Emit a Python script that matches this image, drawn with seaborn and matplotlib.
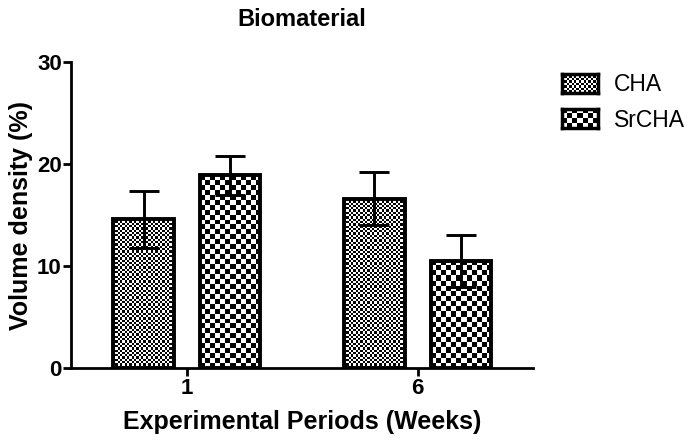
import numpy as np
import pandas as pd
import matplotlib
matplotlib.use('Agg')
import matplotlib.pyplot as plt
from matplotlib.patches import Patch
import seaborn as sns

weeks = ['1', '6']
groups = ['CHA', 'SrCHA']
cha_mean = [14.6, 16.6]
srcha_mean = [18.9, 10.5]
cha_sd = [2.8, 2.6]
srcha_sd = [1.9, 2.5]

# checker cell size (pixels) for each group's fill pattern
cell_px = {'CHA': 2.3, 'SrCHA': 5.0}

df = pd.DataFrame({
    'week': weeks * 2,
    'group': ['CHA'] * 2 + ['SrCHA'] * 2,
    'vd': cha_mean + srcha_mean,
})
sds = {'CHA': cha_sd, 'SrCHA': srcha_sd}
means = {'CHA': cha_mean, 'SrCHA': srcha_mean}

sns.set_style('ticks')
plt.rcParams['font.family'] = ['Liberation Sans', 'DejaVu Sans']
plt.rcParams.update({'text.color': 'black', 'axes.labelcolor': 'black',
                     'xtick.color': 'black', 'ytick.color': 'black',
                     'axes.edgecolor': 'black'})

fig = plt.figure(figsize=(6.94, 4.42), dpi=100)
ax = fig.add_axes([0.103, 0.167, 0.665, 0.693])
sns.barplot(data=df, x='week', y='vd', hue='group', order=weeks, hue_order=groups,
            palette=['white', 'white'], edgecolor='black', linewidth=2.8,
            width=0.75, gap=0.3, errorbar=None, legend=False, ax=ax)

xlim = (-0.5, 1.5)
ylim = (0, 30)
ax.set_xlim(*xlim)
ax.set_ylim(*ylim)
fig.canvas.draw()
bb = ax.get_window_extent()
px_per_x = bb.width / (xlim[1] - xlim[0])
px_per_y = bb.height / (ylim[1] - ylim[0])


def checker(ny, nx):
    return (np.add.outer(np.arange(ny), np.arange(nx)) % 2).astype(float)


for g, cont in zip(groups, ax.containers):
    xs = []
    for bar in cont:
        x0, w, h = bar.get_x(), bar.get_width(), bar.get_height()
        nx = max(1, int(round(w * px_per_x / cell_px[g])))
        ny = max(1, int(round(h * px_per_y / cell_px[g])))
        bar.set_facecolor('none')
        bar.set_zorder(2)
        im = ax.imshow(checker(ny, nx), cmap='gray', vmin=0, vmax=1,
                       extent=[x0, x0 + w, 0, h], origin='lower',
                       interpolation='nearest', aspect='auto', zorder=1.5)
        im.set_clip_path(bar)
        xs.append(x0 + w / 2)
    ax.errorbar(xs, means[g], yerr=sds[g], fmt='none', ecolor='black',
                elinewidth=2.1, capsize=10.5, capthick=2.1, zorder=3)

ax.set_xlim(*xlim)
ax.set_ylim(*ylim)
ax.set_yticks([0, 10, 20, 30])
sns.despine(ax=ax)
for s in ['left', 'bottom']:
    ax.spines[s].set_linewidth(2)
ax.tick_params(direction='out', length=6, width=2, labelsize=16, pad=1)
for lab in ax.get_xticklabels() + ax.get_yticklabels():
    lab.set_fontweight('bold')

ax.set_title('Biomaterial', fontsize=17, fontweight='bold', pad=26)
ax.set_xlabel('Experimental Periods (Weeks)', fontsize=18, fontweight='bold', labelpad=8)
ax.set_ylabel('Volume density (%)', fontsize=18, fontweight='bold', labelpad=3)

handles = [Patch(facecolor='none', edgecolor='none') for _ in groups]
leg = fig.legend(handles, groups, loc='upper left',
                 bbox_to_anchor=(562 / 694, 1 - 73 / 442), frameon=False,
                 fontsize=16.5, handlelength=1.55, handleheight=0.9,
                 handletextpad=0.7, labelspacing=0.55, borderpad=0, borderaxespad=0)

fig.canvas.draw()
r = fig.canvas.get_renderer()
fw, fh = fig.bbox.width, fig.bbox.height
for g, p in zip(groups, leg.get_patches()):
    e = p.get_window_extent(r)
    lax = fig.add_axes([e.x0 / fw, e.y0 / fh, e.width / fw, e.height / fh])
    ny = max(1, int(round(e.height / cell_px[g])))
    nx = max(1, int(round(e.width / cell_px[g])))
    lax.imshow(checker(ny, nx), cmap='gray', vmin=0, vmax=1,
               interpolation='nearest', aspect='auto')
    lax.set_xticks([])
    lax.set_yticks([])
    for s in lax.spines.values():
        s.set_linewidth(2.5)
        s.set_color('black')

fig.savefig('out.png', dpi=100)
